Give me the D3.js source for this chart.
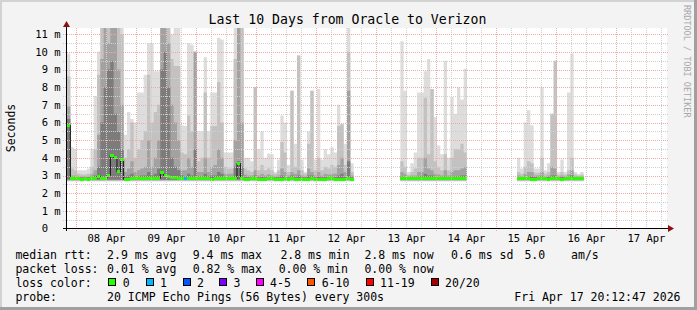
<!DOCTYPE html>
<html>
<head>
<meta charset="utf-8">
<script src="https://cdn.jsdelivr.net/npm/d3@7"></script>
<style>
    body { margin: 0; background: #f3f3f3; }
    svg text { font-family: "DejaVu Sans Mono", monospace; white-space: pre; }
</style>
</head>
<body>
<svg id="chart" width="697" height="310"></svg>
<script>
// time window of the graph, 80 minute bins
var t0 = Date.UTC(2026, 3, 7, 20, 12, 47);
var t1 = Date.UTC(2026, 3, 17, 20, 12, 47);
var binMs = 80 * 60 * 1000;

// first bin of each run of data (there are holes on 12/13 Apr, 14/15 Apr and after 16 Apr)
var segStart = [0, 100, 135];

// smoke, in ms: top of each grey band (outer = lightest)
var smokeMax = [
    [9.9, 4.6, 4.5, 3.3, 3.3, 3.3, 3.4, 4.5, 7.5, 10.0,
     11.5, 11.5, 11.5, 11.5, 11.5, 11.5, 11.5, 5.3, 6.6, 6.2,
     6.0, 7.7, 7.7, 8.7, 10.5, 10.5, 8.9, 8.9, 11.5, 11.5,
     11.5, 11.0, 11.5, 11.5, 5.85, 5.8, 10.5, 10.4, 10.0, 5.5,
     5.5, 9.7, 5.5, 7.7, 7.7, 10.8, 10.7, 4.3, 4.3, 4.3,
     11.5, 11.5, 11.5, 4.0, 4.0, 3.8, 8.0, 4.5, 5.5, 4.0,
     4.25, 4.2, 3.2, 3.9, 6.4, 6.0, 3.6, 7.8, 4.8, 9.8,
     3.9, 3.2, 5.5, 7.8, 3.9, 7.9, 3.9, 4.5, 4.2, 4.6,
     4.3, 7.0, 5.9, 4.8, 11.5, 3.7],
    [10.6, 7.8, 3.2, 3.7, 4.3, 7.7, 7.7, 8.9, 9.6, 7.9,
     6.3, 4.7, 4.2, 9.5, 4.0, 7.45, 6.5, 8.0, 7.3, 9.05],
    [4.0, 3.4, 6.0, 6.7, 5.85, 3.4, 3.4, 8.0, 3.3, 3.7,
     6.5, 9.5, 3.2, 3.9, 3.2, 7.7, 9.9, 3.2, 3.1, 3.2]
];
var smokeHi2 = [
    [8.6, 3.4, 3.3, 3.1, 3.05, 3.05, 3.1, 3.5, 4.5, 8.7,
     11.5, 11.5, 11.5, 11.5, 11.5, 11.5, 11.0, 4.0, 4.5, 6.0,
     4.0, 4.5, 5.0, 5.5, 8.7, 6.0, 6.6, 7.0, 11.5, 11.5,
     11.5, 9.6, 9.2, 9.2, 4.3, 4.2, 6.4, 5.5, 10.0, 3.8,
     4.0, 7.7, 4.0, 5.8, 5.8, 8.3, 6.0, 3.5, 3.4, 3.4,
     9.6, 11.5, 11.5, 3.4, 3.3, 3.2, 8.0, 3.3, 3.6, 3.3,
     3.4, 3.3, 3.1, 3.3, 4.9, 4.3, 3.2, 7.8, 3.5, 9.8,
     3.3, 3.1, 4.8, 7.8, 3.3, 4.0, 3.3, 3.5, 3.4, 3.6,
     3.5, 5.8, 5.9, 3.6, 10.0, 3.2],
    [3.8, 3.5, 3.05, 3.2, 3.4, 4.0, 4.0, 7.4, 4.2, 7.9,
     3.8, 3.5, 3.3, 4.2, 3.3, 4.0, 4.5, 4.5, 4.8, 4.3],
    [3.2, 3.1, 3.5, 3.8, 3.7, 3.15, 3.15, 4.0, 3.1, 3.2,
     6.5, 9.5, 3.05, 3.2, 3.05, 3.3, 4.0, 3.05, 3.0, 3.05]
];
var smokeHi3 = [
    [6.9, 3.0, 3.0, 2.95, 2.95, 2.95, 2.95, 3.1, 3.3, 5.3,
     9.6, 11.5, 10.5, 11.5, 11.5, 9.0, 7.0, 3.2, 3.4, 3.8,
     3.2, 3.3, 3.4, 3.5, 5.0, 3.5, 4.0, 5.0, 11.5, 11.5,
     10.5, 7.0, 6.0, 5.0, 3.3, 3.3, 4.0, 3.5, 10.0, 3.2,
     3.2, 4.0, 3.2, 3.5, 3.6, 4.5, 4.0, 3.1, 3.1, 3.1,
     5.0, 11.5, 6.0, 3.05, 3.0, 3.0, 3.3, 3.0, 3.1, 3.0,
     3.05, 3.0, 2.95, 3.0, 3.4, 3.2, 3.0, 3.2, 3.1, 3.3,
     3.0, 2.95, 3.4, 3.2, 3.0, 3.2, 3.0, 3.1, 3.05, 3.1,
     3.1, 3.6, 4.0, 3.2, 7.8, 3.0],
    [3.2, 3.1, 2.95, 3.0, 3.0, 3.2, 3.2, 4.0, 3.4, 3.3,
     3.1, 3.05, 3.0, 3.3, 3.0, 3.2, 3.3, 3.3, 3.4, 3.5],
    [3.0, 2.95, 3.1, 3.2, 3.2, 3.0, 3.0, 3.2, 2.95, 3.0,
     3.5, 3.4, 2.95, 3.0, 2.95, 3.05, 3.3, 2.95, 2.95, 2.95]
];
var smokeHi4 = [
    [6.2, 2.9, 2.9, 2.88, 2.88, 2.88, 2.88, 2.9, 3.0, 3.5,
     6.0, 8.0, 9.0, 9.5, 6.5, 5.5, 4.5, 2.95, 3.0, 3.1,
     2.95, 2.95, 3.0, 3.0, 3.2, 3.0, 3.1, 3.4, 9.0, 10.0,
     8.0, 4.0, 3.5, 3.3, 3.0, 2.95, 3.1, 3.0, 4.5, 2.95,
     2.95, 3.1, 2.95, 3.0, 3.0, 3.2, 3.1, 2.9, 2.9, 2.9,
     3.5, 3.8, 3.5, 2.9, 2.88, 2.88, 3.0, 2.88, 2.9, 2.88,
     2.9, 2.88, 2.88, 2.88, 3.0, 2.95, 2.88, 3.0, 2.9, 3.0,
     2.88, 2.88, 3.0, 3.0, 2.88, 2.95, 2.88, 2.9, 2.88, 2.9,
     2.9, 3.0, 3.1, 2.9, 3.8, 2.88],
    [2.95, 2.9, 2.88, 2.88, 2.9, 2.95, 2.95, 3.1, 3.0, 3.0,
     2.9, 2.9, 2.88, 2.95, 2.88, 2.9, 2.95, 2.95, 3.0, 3.0],
    [2.88, 2.88, 2.9, 2.95, 2.95, 2.9, 2.9, 2.95, 2.88, 2.9,
     3.0, 3.0, 2.88, 2.9, 2.88, 2.9, 3.0, 2.88, 2.88, 2.88]
];
// bottom of each band (fastest pings)
var smokeFloor = [2.66, 2.70, 2.73, 2.76];

var median = [
    [5.85, 2.82, 2.82, 2.82, 2.80, 2.82, 2.80, 2.82, 2.82, 2.95,
     2.85, 2.85, 3.00, 4.15, 4.00, 3.20, 3.90, 2.78, 2.80, 2.82,
     2.82, 2.82, 2.84, 2.82, 2.82, 2.82, 2.82, 2.84, 3.15, 3.00,
     2.92, 2.90, 2.86, 2.84, 2.82, 2.82, 2.84, 2.82, 2.84, 2.82,
     2.82, 2.84, 2.82, 2.80, 2.82, 2.82, 2.82, 2.82, 2.82, 2.82,
     2.82, 3.68, 2.82, 2.80, 2.80, 2.82, 2.84, 2.80, 2.80, 2.80,
     2.82, 2.82, 2.80, 2.80, 2.80, 2.82, 2.80, 2.84, 2.80, 2.80,
     2.80, 2.80, 2.80, 2.84, 2.80, 2.80, 2.80, 2.80, 2.82, 2.82,
     2.80, 2.80, 2.80, 2.80, 2.84, 2.80],
    [2.82, 2.84, 2.82, 2.82, 2.84, 2.82, 2.82, 2.84, 2.82, 2.84,
     2.82, 2.82, 2.84, 2.82, 2.82, 2.82, 2.84, 2.82, 2.82, 2.84],
    [2.84, 2.82, 2.82, 2.82, 2.80, 2.80, 2.82, 2.82, 2.82, 2.80,
     2.84, 2.82, 2.82, 2.80, 2.82, 2.84, 2.82, 2.82, 2.82, 2.82]
];
// [bin, loss bucket] where the median was not loss free
var lossPoints = [[35, 1]];

var lossLabels = ["0", "1", "2", "3", "4-5", "6-10", "11-19", "20/20"];
var lossColors = ["#26ff00", "#00b8ff", "#0059ff", "#7e00ff", "#ff00ff", "#ff5500", "#ff0000", "#a00000"];

var statRows = [
    ["median rtt:", "2.9 ms avg", "9.4 ms max", "2.8 ms min", "2.8 ms now", "0.6 ms sd", "5.0", "am/s"],
    ["packet loss:", "0.01 % avg", "0.82 % max", "0.00 % min", "0.00 % now"]
];
var probeText = ["probe:", "20 ICMP Echo Pings (56 Bytes) every 300s", "Fri Apr 17 20:12:47 2026"];

var svg = d3.select("svg#chart");
var x = d3.scaleUtc().domain([t0, t1]).range([67, 667]);
var y = d3.scaleLinear().domain([0, 11.35]).range([228.5, 28]);

function binTime(i) { return t0 + i * binMs; }

// frame
svg.append("rect").attr("width", 697).attr("height", 310).attr("fill", "#f3f3f3");
svg.append("rect").attr("width", 697).attr("height", 2).attr("fill", "#d2d2d2");
svg.append("rect").attr("width", 2).attr("height", 310).attr("fill", "#d2d2d2");
svg.append("rect").attr("y", 307).attr("width", 697).attr("height", 3).attr("fill", "#a0a0a0");
svg.append("rect").attr("x", 694).attr("width", 3).attr("height", 310).attr("fill", "#a0a0a0");

svg.append("rect")
    .attr("x", 67).attr("y", 28).attr("width", 600).attr("height", 200.5)
    .attr("fill", "#fff");

const defs = svg.append("defs");
defs.append("clipPath").attr("id", "clip")
    .append("rect").attr("x", 67).attr("y", 28).attr("width", 600).attr("height", 200.5);

// turn the per-run lists into step points, with a break after each run
function runPoints(values) {
    var pts = [];
    values.forEach(function (seg, s) {
        seg.forEach(function (v, j) {
            pts.push({ t: binTime(segStart[s] + j), v: v });
        });
        pts.push({ t: binTime(segStart[s] + seg.length), v: seg[seg.length - 1] });
        pts.push({ t: binTime(segStart[s] + seg.length), v: null });
    });
    return pts;
}

const g = svg.append("g").attr("clip-path", "url(#clip)");

var bands = [smokeMax, smokeHi2, smokeHi3, smokeHi4];
var bandColors = ["#dddddd", "#c2c2c2", "#a2a2a2", "#7c7c7c"];
bands.forEach(function (band, k) {
    var area = d3.area()
        .defined(d => d.v != null)
        .curve(d3.curveStepAfter)
        .x(d => x(d.t))
        .y0(y(smokeFloor[k]))
        .y1(d => y(d.v));
    g.append("path")
        .datum(runPoints(band))
        .attr("fill", bandColors[k])
        .attr("d", area);
});

// grid
var hMinor = y.ticks(22).filter(v => v > 0 && v % 1 !== 0);
var hMajor = y.ticks(11).filter(v => v > 0);
var vMinor = x.ticks(d3.utcHour.every(6));
var vMajor = x.ticks(d3.utcDay.every(1));

const grid = svg.append("g").attr("shape-rendering", "crispEdges");
grid.selectAll("line.hmin").data(hMinor).enter().append("line")
    .attr("x1", 63).attr("x2", 669)
    .attr("y1", d => Math.round(y(d)) + 0.5).attr("y2", d => Math.round(y(d)) + 0.5)
    .attr("stroke", "#d0d0d0").attr("stroke-dasharray", "1,1");
grid.selectAll("line.vmin").data(vMinor).enter().append("line")
    .attr("y1", 28).attr("y2", 230)
    .attr("x1", d => Math.round(x(d)) + 0.5).attr("x2", d => Math.round(x(d)) + 0.5)
    .attr("stroke", "#d0d0d0").attr("stroke-dasharray", "1,1");
grid.selectAll("line.hmaj").data(hMajor).enter().append("line")
    .attr("x1", 63).attr("x2", 669)
    .attr("y1", d => Math.round(y(d)) + 0.5).attr("y2", d => Math.round(y(d)) + 0.5)
    .attr("stroke", "#f2a8a8").attr("stroke-dasharray", "1,1");
grid.selectAll("line.vmaj").data(vMajor).enter().append("line")
    .attr("y1", 28).attr("y2", 231)
    .attr("x1", d => Math.round(x(d)) + 0.5).attr("x2", d => Math.round(x(d)) + 0.5)
    .attr("stroke", "#f2a8a8").attr("stroke-dasharray", "1,1");

// median: thin dark connector, then loss coloured segments
var line = d3.line()
    .defined(d => d.v != null)
    .curve(d3.curveStepAfter)
    .x(d => x(d.t))
    .y(d => y(d.v));
g.append("path")
    .datum(runPoints(median))
    .attr("fill", "none")
    .attr("stroke", "#111")
    .attr("stroke-width", 1)
    .attr("d", line);

var medianBins = [];
median.forEach(function (seg, s) {
    seg.forEach(function (v, j) {
        var i = segStart[s] + j;
        var lp = lossPoints.find(p => p[0] === i);
        medianBins.push({ i: i, v: v, loss: lp ? lp[1] : 0 });
    });
});
g.selectAll("rect.med").data(medianBins).enter().append("rect")
    .attr("shape-rendering", "crispEdges")
    .attr("x", d => Math.round(x(binTime(d.i))))
    .attr("width", d => Math.round(x(binTime(d.i + 1))) - Math.round(x(binTime(d.i))))
    .attr("y", d => Math.round(y(d.v) - 1.5))
    .attr("height", 3)
    .attr("fill", d => lossColors[d.loss]);

// axes
const axes = svg.append("g").attr("shape-rendering", "crispEdges");
axes.append("line").attr("x1", 63).attr("x2", 669).attr("y1", 228.5).attr("y2", 228.5).attr("stroke", "#000");
axes.append("line").attr("x1", 66.5).attr("x2", 66.5).attr("y1", 231).attr("y2", 25).attr("stroke", "#000");
svg.append("path").attr("d", "M668,225L674,228.5L668,232Z").attr("fill", "#8b1010");
svg.append("path").attr("d", "M63,27L66.5,21L70,27Z").attr("fill", "#8b1010");

svg.selectAll("text.ylab").data(y.ticks(11)).enter().append("text")
    .attr("x", 60.6).attr("y", d => y(d) + 3.7)
    .attr("text-anchor", "end")
    .attr("font-size", "10.5px")
    .text(d => d === 0 ? "0  " : d + " m");

var dayLabels = vMajor.map(d => new Date(+d + 12 * 3600 * 1000)).filter(d => +d <= t1);
svg.selectAll("text.xlab").data(dayLabels).enter().append("text")
    .attr("x", d => x(d)).attr("y", 242)
    .attr("text-anchor", "middle")
    .attr("font-size", "10.5px")
    .text(d3.utcFormat("%d %b"));

svg.append("text")
    .attr("x", 347.5).attr("y", 24)
    .attr("text-anchor", "middle")
    .attr("font-size", "13.2px")
    .text("Last 10 Days from Oracle to Verizon");

svg.append("text")
    .attr("transform", "translate(15,128) rotate(-90)")
    .attr("text-anchor", "middle")
    .attr("font-size", "11.5px")
    .text("Seconds");

svg.append("text")
    .attr("transform", "translate(684,5) rotate(90)")
    .attr("font-size", "8.5px")
    .attr("fill", "#a8a8a8")
    .text("RRDTOOL / TOBI OETIKER");

// legend
var statX = [[16, 107.7, 193.3, 281, 365, 451.7, 525, 571.7], [16, 107.7, 193.3, 279.3, 365]];
var rowY = [258.5, 272.5, 286.5, 300.5];
statRows.forEach(function (row, r) {
    row.forEach(function (s, c) {
        svg.append("text")
            .attr("x", statX[r][c] - 0.6).attr("y", rowY[r])
            .attr("font-size", "11.5px")
            .text(s);
    });
});

svg.append("text").attr("x", 15.4).attr("y", rowY[2]).attr("font-size", "11.5px").text("loss color:");
var boxX = [108.3, 145.7, 182.7, 219, 255.7, 307.3, 365.7, 430.7];
lossLabels.forEach(function (lab, k) {
    svg.append("rect")
        .attr("x", Math.round(boxX[k]) + 0.5).attr("y", 278.5)
        .attr("width", 7).attr("height", 7)
        .attr("fill", lossColors[k]).attr("stroke", "#000");
    svg.append("text")
        .attr("x", boxX[k] + 14.4).attr("y", rowY[2])
        .attr("font-size", "11.5px")
        .text(lab);
});

svg.append("text").attr("x", 15.4).attr("y", rowY[3]).attr("font-size", "11.5px").text(probeText[0]);
svg.append("text").attr("x", 107.1).attr("y", rowY[3]).attr("font-size", "11.5px").text(probeText[1]);
svg.append("text").attr("x", 680.5).attr("y", rowY[3]).attr("text-anchor", "end").attr("font-size", "11.5px").text(probeText[2]);
</script>
</body>
</html>
